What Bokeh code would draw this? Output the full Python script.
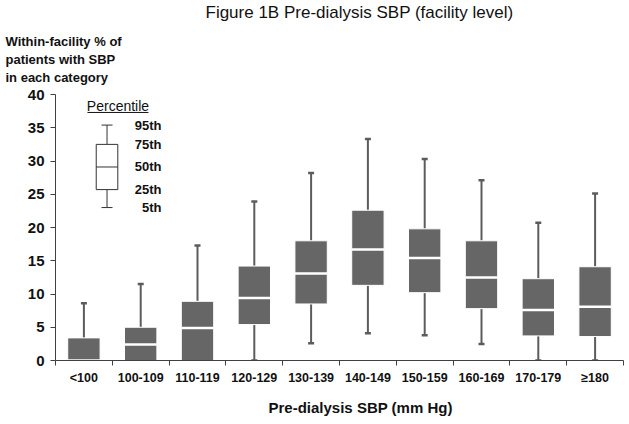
from bokeh.plotting import figure
from bokeh.models import Range1d, LinearAxis, FixedTicker, Label, ColumnDataSource, Title
from bokeh.core.properties import value
from bokeh.embed import file_html
from bokeh.resources import INLINE

# ---- data ----
categories = ["<100", "100-109", "110-119", "120-129", "130-139",
              "140-149", "150-159", "160-169", "170-179", "\u2265180"]
p5 = [0.0, 0.0, 0.0, 0.0, 2.6, 4.1, 3.8, 2.5, 0.0, 0.0]
p25 = [0.0, 0.0, 0.0, 5.4, 8.5, 11.3, 10.2, 7.8, 3.7, 3.6]
p50 = [0.0, 2.4, 4.9, 9.4, 13.1, 16.7, 15.4, 12.5, 7.6, 8.1]
p75 = [3.4, 5.0, 8.9, 14.2, 18.0, 22.6, 19.8, 18.0, 12.3, 14.1]
p95 = [8.6, 11.5, 17.3, 23.9, 28.2, 33.3, 30.3, 27.1, 20.7, 25.1]
y_ticks = [0, 5, 10, 15, 20, 25, 30, 35, 40]

legend_labels = ["5th", "25th", "50th", "75th", "95th"]
legend_values = [23.0, 25.7, 29.1, 32.5, 35.4]

title_text = "Figure 1B Pre-dialysis SBP (facility level)"
ylabel_lines = ["Within-facility % of", "patients with SBP", "in each category"]
xlabel_text = "Pre-dialysis SBP (mm Hg)"

# ---- styles ----
FONT = "Liberation Sans"
BOX = "#666666"
WHISK = "#5c5c5c"
AXIS = "#404040"
TXT = "#111111"
BOX_W = 0.57

n = len(categories)
centers = [i + 0.5 for i in range(n)]
bounds = list(range(n + 1))
src = ColumnDataSource(dict(x=centers, p5=p5, p25=p25, p50=p50, p75=p75, p95=p95))

p = figure(width=625, height=424,
           x_range=Range1d(0, n), y_range=Range1d(0, 40),
           output_backend="svg", toolbar_location=None, x_axis_location=None,
           title=None, min_border_left=55, min_border_right=2,
           min_border_top=94, min_border_bottom=64)
p.grid.visible = False
p.outline_line_color = None
p.background_fill_color = "white"

# whiskers
p.segment(x0="x", y0="p75", x1="x", y1="p95", source=src, line_color=WHISK, line_width=2)
p.segment(x0="x", y0="p5", x1="x", y1="p25", source=src, line_color=WHISK, line_width=2)
p.scatter(x="x", y="p95", source=src, marker="dash", size=6, line_color=WHISK, line_width=2.5)
p.scatter(x="x", y="p5", source=src, marker="dash", size=6, line_color=WHISK, line_width=2.5)

# boxes
p.vbar(x="x", bottom="p25", top="p75", width=BOX_W, source=src,
       fill_color=BOX, line_color="white", line_width=1)
p.rect(x="x", y="p50", width=BOX_W, height=2.5, height_units="screen", source=src,
       fill_color="white", line_color=None)

# ---- percentile key ----
LX = 0.907
LW = 0.380
CW = 0.194
p.quad(left=[LX - LW / 2], right=[LX + LW / 2], bottom=[legend_values[1]], top=[legend_values[3]],
       fill_color="white", line_color="#333333", line_width=1)
p.segment(x0=[LX - LW / 2], x1=[LX + LW / 2], y0=[legend_values[2]], y1=[legend_values[2]],
          line_color="#333333", line_width=1)
p.segment(x0=[LX, LX], x1=[LX, LX], y0=[legend_values[3], legend_values[1]],
          y1=[legend_values[4], legend_values[0]], line_color="#333333", line_width=1)
p.segment(x0=[LX - CW / 2, LX - CW / 2], x1=[LX + CW / 2, LX + CW / 2],
          y0=[legend_values[4], legend_values[0]], y1=[legend_values[4], legend_values[0]],
          line_color="#333333", line_width=1)
p.text(x=[1.866] * len(legend_labels), y=legend_values, text=legend_labels,
       text_align="right", text_baseline="middle", text_font=value(FONT),
       text_font_style="bold", text_font_size="13px", text_color=TXT)
p.add_layout(Label(x=1.100, y=38.2, text="Percentile",
                   text_align="center", text_baseline="middle", text_font=FONT,
                   text_font_size="14px", text_color=TXT))
p.segment(x0=[0.563], x1=[1.637], y0=[37.3], y1=[37.3], line_color=TXT, line_width=1)

# ---- axes ----
ya = p.yaxis[0]
ya.ticker = FixedTicker(ticks=y_ticks)
ya.major_tick_out = 5
ya.major_tick_in = 0
ya.minor_tick_line_color = None
ya.axis_line_color = AXIS
ya.major_tick_line_color = AXIS
ya.major_label_text_font = FONT
ya.major_label_text_font_style = "bold"
ya.major_label_text_font_size = "15px"
ya.major_label_text_color = TXT
ya.major_label_standoff = 6

xa = LinearAxis(ticker=FixedTicker(ticks=centers, minor_ticks=bounds),
                major_label_overrides={c: cat for c, cat in zip(centers, categories)},
                major_tick_line_color=None, major_tick_out=0, major_tick_in=0,
                minor_tick_out=5, minor_tick_in=0, minor_tick_line_color=AXIS,
                axis_line_color=AXIS,
                major_label_text_font=FONT, major_label_text_font_style="bold",
                major_label_text_font_size="12.5px", major_label_text_color=TXT,
                major_label_standoff=5)
p.add_layout(xa, "below")

# ---- texts outside the frame (titles) ----
p.add_layout(Title(text="\n".join(ylabel_lines), align="left", offset=-50, standoff=20,
                   text_font=FONT, text_font_style="bold", text_font_size="13px",
                   text_line_height=1.2, text_color=TXT), "above")
p.add_layout(Title(text=title_text, align="left", offset=150, standoff=0, text_font=FONT,
                   text_font_style="normal", text_font_size="17px", text_color=TXT), "above")
p.add_layout(Title(text=xlabel_text, align="left", offset=213, standoff=18, text_font=FONT,
                   text_font_style="bold", text_font_size="15px", text_color=TXT), "below")

open("out.html", "w").write(file_html(p, INLINE))
